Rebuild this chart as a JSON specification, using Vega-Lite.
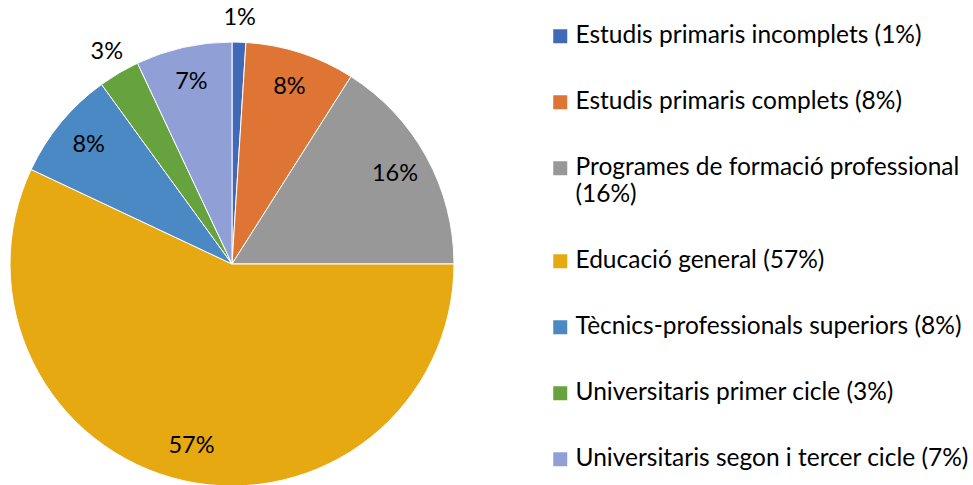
{
  "$schema": "https://vega.github.io/schema/vega-lite/v6.json",
  "autosize": "none",
  "padding": {"left": 11, "top": 43, "right": 520, "bottom": 0},
  "width": 442,
  "height": 442,
  "background": "white",
  "config": {
    "view": {"stroke": null},
    "legend": {
      "orient": "none",
      "legendX": 537,
      "legendY": -19,
      "symbolType": "square",
      "symbolSize": 196,
      "symbolStrokeWidth": 0,
      "labelFont": "Lato",
      "labelFontSize": 24.5,
      "labelColor": "#000000",
      "labelLimit": 600,
      "labelOffset": 3,
      "rowPadding": 41,
      "padding": 0
    }
  },
  "data": {
    "values": [
      {"category": "Estudis primaris incomplets (1%)", "share": 0.01, "order": 1},
      {"category": "Estudis primaris complets (8%)", "share": 0.08, "order": 2},
      {"category": "Programes de formació professional (16%)", "share": 0.16, "order": 3},
      {"category": "Educació general (57%)", "share": 0.57, "order": 4},
      {"category": "Tècnics-professionals superiors (8%)", "share": 0.08, "order": 5},
      {"category": "Universitaris primer cicle (3%)", "share": 0.03, "order": 6},
      {"category": "Universitaris segon i tercer cicle (7%)", "share": 0.07, "order": 7}
    ]
  },
  "layer": [
    {
      "mark": {"type": "arc", "outerRadius": 222, "stroke": "white", "strokeWidth": 1},
      "encoding": {
        "theta": {"field": "share", "type": "quantitative", "stack": true},
        "order": {"field": "order", "type": "quantitative"},
        "color": {
          "field": "category",
          "type": "nominal",
          "title": null,
          "scale": {
            "domain": [
              "Estudis primaris incomplets (1%)",
              "Estudis primaris complets (8%)",
              "Programes de formació professional (16%)",
              "Educació general (57%)",
              "Tècnics-professionals superiors (8%)",
              "Universitaris primer cicle (3%)",
              "Universitaris segon i tercer cicle (7%)"
            ],
            "range": ["#4169B8", "#DE7535", "#989898", "#E6A912", "#4A89C4", "#66A23E", "#90A0D6"]
          },
          "legend": {
            "labelExpr": "datum.label == 'Programes de formació professional (16%)' ? ['Programes de formació professional', '(16%)'] : datum.label"
          }
        }
      }
    },
    {
      "mark": {"type": "text", "radius": 186, "font": "Lato", "fontSize": 23.5, "fill": "#000000"},
      "encoding": {
        "theta": {"field": "share", "type": "quantitative", "stack": true},
        "order": {"field": "order", "type": "quantitative"},
        "text": {
          "condition": {"test": "datum.share < 0.05", "value": ""},
          "field": "share",
          "type": "quantitative",
          "format": ".0%"
        }
      }
    },
    {
      "mark": {"type": "text", "radius": 246, "font": "Lato", "fontSize": 23.5, "fill": "#000000"},
      "encoding": {
        "theta": {"field": "share", "type": "quantitative", "stack": true},
        "order": {"field": "order", "type": "quantitative"},
        "text": {
          "condition": {"test": "datum.share >= 0.05", "value": ""},
          "field": "share",
          "type": "quantitative",
          "format": ".0%"
        }
      }
    }
  ]
}
